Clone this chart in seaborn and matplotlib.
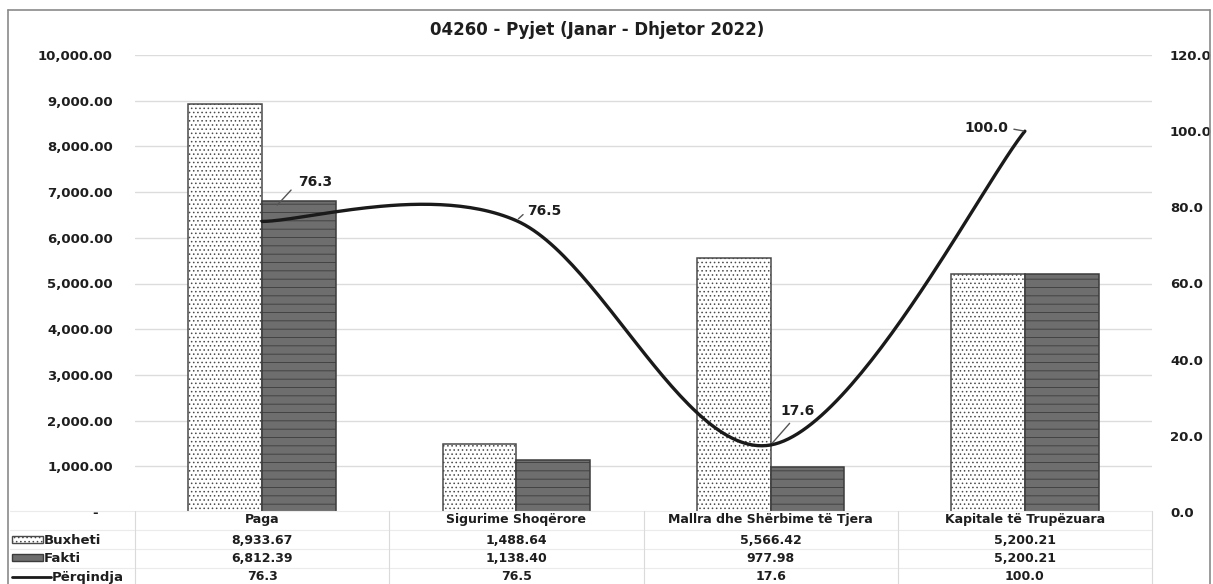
import numpy as np
import pandas as pd
import matplotlib
matplotlib.use("Agg")
import matplotlib.pyplot as plt
import matplotlib.transforms as mtransforms
from matplotlib.patches import Rectangle
from matplotlib.lines import Line2D
from matplotlib.ticker import FuncFormatter, MultipleLocator
import seaborn as sns

# ---------------- data ----------------
title = "04260 - Pyjet (Janar - Dhjetor 2022)"
categories = ["Paga", "Sigurime Shoqërore", "Mallra dhe Shërbime të Tjera", "Kapitale të Trupëzuara"]
buxheti = [8933.67, 1488.64, 5566.42, 5200.21]
fakti = [6812.39, 1138.40, 977.98, 5200.21]
perqindja = [76.3, 76.5, 17.6, 100.0]
series_names = ["Buxheti", "Fakti", "Përqindja"]
buxheti_labels = ["8,933.67", "1,488.64", "5,566.42", "5,200.21"]
fakti_labels = ["6,812.39", "1,138.40", "977.98", "5,200.21"]
perqindja_labels = ["76.3", "76.5", "17.6", "100.0"]

# ---------------- style ----------------
W, H = 1213, 584
sns.set_theme(style="white")
plt.rcParams["font.family"] = ["DejaVu Sans"]
plt.rcParams["hatch.linewidth"] = 0.6
TXT = "#1e1e1e"
TABLE_FS = 9

fig = plt.figure(figsize=(W / 100, H / 100), dpi=100)
fig.patch.set_facecolor("white")


def fx(px):
    return px / W


def fy(py):
    return 1 - py / H


ax = fig.add_axes([fx(135), fy(512), fx(1152) - fx(135), fy(55) - fy(512)])

df = pd.DataFrame({
    "Kategoria": categories * 2,
    "Vlera": buxheti + fakti,
    "Seria": [series_names[0]] * len(categories) + [series_names[1]] * len(categories),
})
sns.barplot(data=df, x="Kategoria", y="Vlera", hue="Seria", order=categories,
            hue_order=series_names[:2],
            palette={series_names[0]: "white", series_names[1]: "#6e6e6e"},
            width=0.58, gap=0, saturation=1, legend=False, ax=ax,
            edgecolor="#3a3a3a", linewidth=1.1, errorbar=None)

for p in ax.containers[0]:
    p.set_hatch("....")
    p.set_edgecolor("#4a4a4a")
for p in ax.containers[1]:
    p.set_hatch("--")
    p.set_edgecolor("#3c3c3c")

ax.set_ylim(0, 10000)
ax.yaxis.set_major_locator(MultipleLocator(1000))
ax.yaxis.set_major_formatter(FuncFormatter(lambda v, p: "-   " if v == 0 else f"{v:,.2f}"))
ax.set_xlabel("")
ax.set_ylabel("")
ax.set_xticklabels([])
ax.tick_params(axis="both", length=0)
ax.tick_params(axis="y", pad=16, labelsize=9.5, labelcolor=TXT)
for lab in ax.get_yticklabels():
    lab.set_fontweight("bold")
ax.yaxis.grid(True, color="#dcdcdc", lw=1)
ax.set_axisbelow(True)
for s in ax.spines.values():
    s.set_visible(False)

# ---------------- percentage line (smoothed) ----------------
ax2 = ax.twinx()
xs = np.arange(len(categories), dtype=float)
ys = np.array(perqindja, dtype=float)
P = np.column_stack([xs, ys])
Pext = np.vstack([P[0], P, P[-1]])
t = np.linspace(0, 1, 60)[:, None]
h00 = 2 * t**3 - 3 * t**2 + 1
h10 = t**3 - 2 * t**2 + t
h01 = -2 * t**3 + 3 * t**2
h11 = t**3 - t**2
segs = []
for i in range(len(P) - 1):
    p0, p1, p2, p3 = Pext[i], Pext[i + 1], Pext[i + 2], Pext[i + 3]
    m1 = (p2 - p0) / 2
    m2 = (p3 - p1) / 2
    segs.append(h00 * p1 + h10 * m1 + h01 * p2 + h11 * m2)
curve = np.vstack(segs)
ax2.plot(curve[:, 0], curve[:, 1], color="#1a1a1a", lw=2.4, solid_capstyle="round")
ax2.set_ylim(0, 120)
ax2.yaxis.set_major_locator(MultipleLocator(20))
ax2.yaxis.set_major_formatter(FuncFormatter(lambda v, p: f"{v:.1f}"))
ax2.tick_params(axis="y", length=0, pad=13, labelsize=9.5, labelcolor=TXT)
for lab in ax2.get_yticklabels():
    lab.set_fontweight("bold")
ax2.grid(False)
for s in ax2.spines.values():
    s.set_visible(False)
ax.set_xlim(-0.5, len(categories) - 0.5)

# data labels with leader lines (offsets in pixels)
label_cfg = [
    ((36, 39), "left", (0, 0.5), 4, 16),
    ((11, 10), "left", (0, 0.5), 1, 2),
    ((10, 34), "left", (0.4, 0), 2, 2),
    ((-17, 3), "right", (1, 0.5), 2, 1),
]
for i, (off, ha, rel, sa, sb) in enumerate(label_cfg):
    ax2.annotate(perqindja_labels[i], xy=(xs[i], ys[i]), xytext=off,
                 textcoords="offset pixels", ha=ha, va="center",
                 fontsize=10, fontweight="bold", color=TXT,
                 arrowprops=dict(arrowstyle="-", color="#555555", lw=1,
                                 relpos=rel, shrinkA=sa, shrinkB=sb))

# ---------------- title ----------------
fig.text(fx(597), fy(30), title, ha="center", va="center",
         fontsize=12, fontweight="bold", color=TXT)

# ---------------- data table ----------------
tr = mtransforms.blended_transform_factory(ax.transData, fig.transFigure)
row_y = [520, 540, 558, 577]
rows = [categories, buxheti_labels, fakti_labels, perqindja_labels]
for r, vals in enumerate(rows):
    for i, txt in enumerate(vals):
        fig.text(xs[i], fy(row_y[r]), txt, transform=tr, ha="center", va="center",
                 fontsize=TABLE_FS, fontweight="bold", color=TXT)

# grid lines of the table
for yy in [511, 530, 549, 568]:
    fig.add_artist(Line2D([fx(10), fx(1152)], [fy(yy), fy(yy)], color="#ebebeb", lw=0.8))
for k in range(len(categories) + 1):
    xb = k - 0.5
    fig.add_artist(Line2D([xb, xb], [fy(511), fy(584)], transform=tr, color="#dadada", lw=0.8))

# legend keys in row-header column
fig.add_artist(Rectangle((fx(12), fy(543)), fx(31), fy(536) - fy(543), transform=fig.transFigure,
                         facecolor="white", edgecolor="#4a4a4a", hatch="....", lw=1))
fig.add_artist(Rectangle((fx(12), fy(561)), fx(31), fy(554) - fy(561), transform=fig.transFigure,
                         facecolor="#6e6e6e", edgecolor="#3c3c3c", lw=1))
fig.add_artist(Line2D([fx(12), fx(51)], [fy(577), fy(577)], color="#1a1a1a", lw=2))
fig.text(fx(44), fy(row_y[1]), series_names[0], ha="left", va="center", fontsize=9.5,
         fontweight="bold", color=TXT)
fig.text(fx(44), fy(row_y[2]), series_names[1], ha="left", va="center", fontsize=9.5,
         fontweight="bold", color=TXT)
fig.text(fx(52), fy(row_y[3]), series_names[2], ha="left", va="center", fontsize=9.5,
         fontweight="bold", color=TXT)

# outer chart border
fig.add_artist(Line2D([fx(8), fx(8)], [fy(10), 0], color="#8a8a8a", lw=1.2))
fig.add_artist(Line2D([fx(1210), fx(1210)], [fy(10), 0], color="#8a8a8a", lw=1.2))
fig.add_artist(Line2D([fx(8), fx(1210)], [fy(10), fy(10)], color="#8a8a8a", lw=1.2))

fig.savefig("out.png", dpi=100, facecolor="white")
